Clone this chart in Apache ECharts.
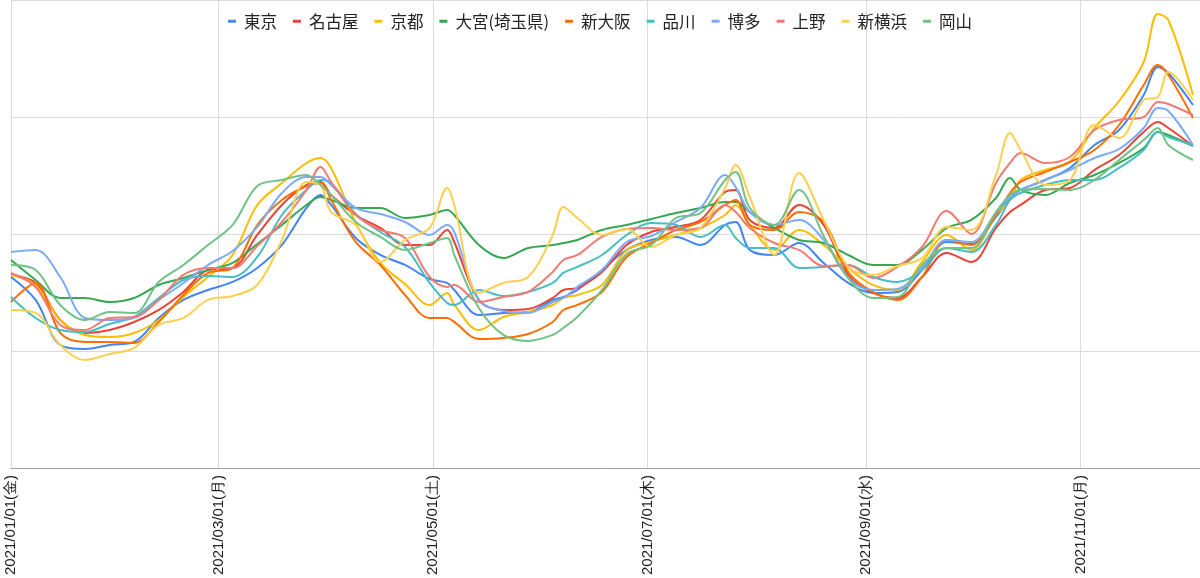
<!DOCTYPE html>
<html>
<head>
<meta charset="utf-8">
<script src="https://cdn.jsdelivr.net/npm/echarts@6/dist/echarts.min.js"></script>
<style>
  html, body { margin: 0; padding: 0; background: #fff; }
  #main { width: 1200px; height: 578px; }
</style>
</head>
<body>
<div id="main"></div>
<script>
// sample dates (weekly, plus a few days where a line has a sharp peak)
var dates = [
  '2021-01-01','2021-01-08','2021-01-15','2021-01-22','2021-01-29','2021-02-05','2021-02-12','2021-02-19','2021-02-26','2021-03-05',
  '2021-03-12','2021-03-19','2021-03-26','2021-03-30','2021-04-02','2021-04-09','2021-04-16','2021-04-23','2021-04-30','2021-05-05',
  '2021-05-07','2021-05-14','2021-05-21','2021-05-28','2021-06-04','2021-06-07','2021-06-11','2021-06-18','2021-06-25','2021-07-02',
  '2021-07-09','2021-07-16','2021-07-23','2021-07-26','2021-07-30','2021-08-06','2021-08-13','2021-08-20','2021-08-27','2021-09-03',
  '2021-09-10','2021-09-17','2021-09-24','2021-10-01','2021-10-08','2021-10-12','2021-10-15','2021-10-22','2021-10-29','2021-11-05',
  '2021-11-12','2021-11-19','2021-11-23','2021-11-26','2021-12-03'
];

var stations = ['東京','名古屋','京都','大宮(埼玉県)','新大阪','品川','博多','上野','新横浜','岡山'];
var colors = ['#4285F4','#EA4335','#FBBC04','#34A853','#FF6D01','#46BDC6','#7BAAF7','#F07B72','#FCD04F','#71C287'];

var tokyo = [191,168,123,119,123,126,150,168,178,186, 200,223,260,273,263,230,213,203,189,185,
  178,153,155,156,168,171,178,198,218,228, 231,223,243,246,218,213,225,205,185,175,
  176,198,226,224,251,270,278,288,300,323, 338,373,401,395,363];
var nagoya = [193,185,148,135,138,146,158,176,198,200, 233,263,283,286,273,253,240,223,223,238,
  226,168,158,159,170,178,180,196,223,236, 241,248,276,278,248,240,263,243,193,175,
  170,191,215,206,240,256,263,278,280,298, 313,336,346,340,322];
var kyoto = [193,183,148,133,131,135,148,171,191,213, 263,285,305,310,300,245,205,184,163,175,
  163,138,151,156,163,170,173,183,218,226, 233,240,253,263,243,218,238,223,200,183,
  178,206,233,218,253,268,288,298,306,340, 367,406,454,448,373];
var omiya = [208,188,170,170,166,170,183,190,198,205, 224,243,263,271,268,260,260,250,253,258,
  253,223,210,220,223,225,228,238,243,249, 255,260,266,266,256,240,228,225,213,203,
  203,218,240,248,270,290,278,273,285,293, 305,320,336,333,322];
var shinosaka = [166,185,135,126,126,125,146,173,195,200, 243,268,282,285,268,226,203,173,150,150,
  146,129,130,134,146,158,163,176,211,225, 238,246,263,268,243,238,256,246,196,176,
  168,191,228,223,253,275,286,296,306,318, 343,383,403,393,350];
var shinagawa = [171,150,138,136,144,151,170,188,192,191, 211,253,278,288,285,254,236,221,185,165,
  163,178,172,176,185,195,201,213,233,245, 243,231,243,230,220,220,200,201,203,191,
  186,198,220,216,243,268,275,283,288,288, 300,318,336,331,323];
var hakata = [216,218,191,150,148,150,168,185,203,217, 241,275,291,291,283,260,254,246,233,243,
  236,168,157,155,166,170,181,198,226,232, 246,260,293,281,256,243,248,228,190,178,
  179,200,228,226,255,271,278,288,298,310, 319,340,360,357,323];
var ueno = [195,181,143,138,150,151,168,193,200,200, 222,246,278,301,286,253,238,230,191,181,
  183,166,171,176,196,208,213,231,239,240, 238,240,263,256,240,225,218,202,203,190,
  201,221,257,234,285,305,315,305,311,338, 348,351,366,364,353];
var shinyokohama = [158,155,123,108,114,120,143,150,168,172, 183,228,286,283,256,243,206,228,240,280,
  263,175,185,191,233,261,250,233,239,221, 233,240,280,303,271,213,295,248,201,193,
  202,210,241,238,293,335,318,283,288,343, 330,368,371,396,368];
var okayama = [203,198,163,148,156,155,186,203,223,243, 282,288,293,283,273,246,231,218,225,230,
  213,160,133,127,133,140,151,178,214,223, 250,255,288,296,260,243,278,232,190,170,
  171,203,220,220,256,273,278,279,278,288, 308,328,340,323,308];

var values = [tokyo, nagoya, kyoto, omiya, shinosaka, shinagawa, hakata, ueno, shinyokohama, okayama];

// label positions on the date axis
var tickDates = ['2021-01-01','2021-03-01','2021-05-01','2021-07-01','2021-09-01','2021-11-01'];
var lastDate = '2021-12-05';
var weekdays = ['日','月','火','水','木','金','土'];

var DAY = 86400000;
var start = Date.UTC(2021, 0, 1);
// day number counted from 2021-01-01
function toDay(s) {
  var p = s.split('-');
  return Math.round((Date.UTC(+p[0], +p[1] - 1, +p[2]) - start) / DAY);
}
function pad(n) { return n < 10 ? '0' + n : '' + n; }

var tickDays = tickDates.map(toDay);

var series = stations.map(function (name, i) {
  return {
    name: name,
    type: 'line',
    showSymbol: false,
    smooth: 0.35,
    lineStyle: { width: 2 },
    emphasis: { disabled: true },
    data: values[i].map(function (v, k) { return [toDay(dates[k]), v]; })
  };
});

var myChart = echarts.init(document.getElementById('main'));
var option = {
  animation: false,
  color: colors,
  legend: {
    top: 8,
    left: 'center',
    icon: 'rect',
    itemWidth: 8,
    itemHeight: 3,
    itemGap: 16,
    textStyle: {
      fontSize: 16.5,
      color: '#222',
      padding: [0, 0, 0, 3],
      fontFamily: 'Noto Sans CJK JP'
    },
    data: stations
  },
  grid: { left: 11, right: 0, top: 0, bottom: 110 },
  xAxis: {
    type: 'value',
    min: 0,
    max: toDay(lastDate),
    axisLine: { lineStyle: { color: '#9e9e9e', width: 1 } },
    axisTick: { show: false, customValues: tickDays },
    splitLine: { show: true, lineStyle: { color: '#dadada', width: 1 } },
    axisLabel: {
      customValues: tickDays,
      rotate: 90,
      margin: 7,
      fontSize: 15,
      color: '#222',
      fontFamily: 'Liberation Sans',
      formatter: function (val) {
        var d = new Date(start + val * DAY);
        return d.getUTCFullYear() + '/' + pad(d.getUTCMonth() + 1) + '/' + pad(d.getUTCDate()) +
          '(' + weekdays[d.getUTCDay()] + ')';
      }
    }
  },
  yAxis: {
    type: 'value',
    min: 0,
    max: 468,
    interval: 117,
    axisLine: { show: false },
    axisTick: { show: false },
    axisLabel: { show: false },
    splitLine: { lineStyle: { color: '#dadada', width: 1 } }
  },
  series: series
};
myChart.setOption(option);
</script>
</body>
</html>
